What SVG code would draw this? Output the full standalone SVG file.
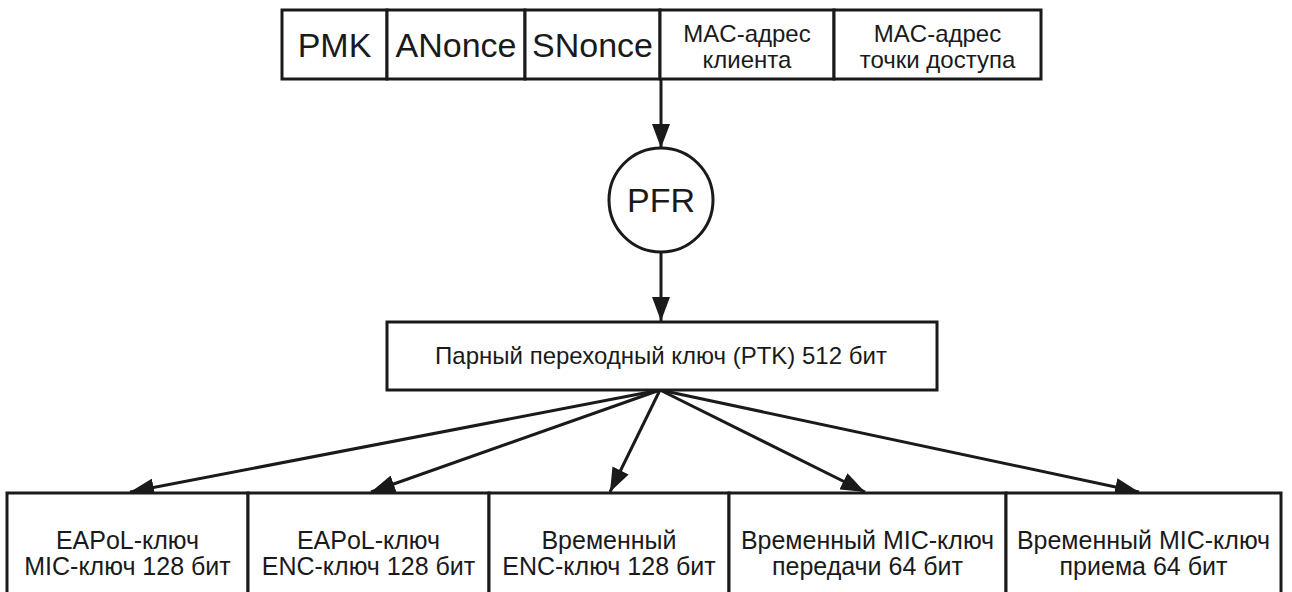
<svg xmlns="http://www.w3.org/2000/svg" width="1292" height="592" viewBox="0 0 1292 592">
<style>
.box{fill:#fff;stroke:#1a1a1a;stroke-width:3}
.ln{stroke:#1a1a1a;stroke-width:3;fill:none}
text{font-family:"Liberation Sans",Arial,sans-serif;fill:#1a1a1a;text-anchor:middle}
.big{font-size:34px}
.mac{font-size:24px}
.mid{font-size:24px}
.bot{font-size:25px}
</style>
<defs>
<marker id="ah" viewBox="0 0 24 18" refX="24" refY="9" markerWidth="24" markerHeight="18" markerUnits="userSpaceOnUse" orient="auto">
<path d="M0,0 L24,9 L0,18 z" fill="#1a1a1a"/>
</marker>
</defs>
<rect width="1292" height="592" fill="#fff"/>
<g id="connectors">
<line class="ln" x1="661" y1="80" x2="661" y2="148" marker-end="url(#ah)"/>
<line class="ln" x1="661" y1="252" x2="661" y2="321" marker-end="url(#ah)"/>
<line class="ln" x1="660" y1="390" x2="130" y2="492" marker-end="url(#ah)"/>
<line class="ln" x1="660" y1="390" x2="371" y2="492" marker-end="url(#ah)"/>
<line class="ln" x1="660" y1="390" x2="610" y2="492" marker-end="url(#ah)"/>
<line class="ln" x1="660" y1="390" x2="865" y2="492" marker-end="url(#ah)"/>
<line class="ln" x1="660" y1="390" x2="1139" y2="492" marker-end="url(#ah)"/>
</g>
<g id="pmk"><rect class="box" x="282" y="10" width="105" height="69"/><text class="big" x="334.5" y="57">PMK</text></g>
<g id="anonce"><rect class="box" x="387" y="10" width="138" height="69"/><text class="big" x="456" y="57">ANonce</text></g>
<g id="snonce"><rect class="box" x="525" y="10" width="135" height="69"/><text class="big" x="592.5" y="57">SNonce</text></g>
<g id="mac-client"><rect class="box" x="660" y="10" width="174" height="69"/><text class="mac" x="747" y="42">MAC-адрес</text><text class="mac" x="747" y="68">клиента</text></g>
<g id="mac-ap"><rect class="box" x="834" y="10" width="207" height="69"/><text class="mac" x="937.5" y="42">MAC-адрес</text><text class="mac" x="937.5" y="68">точки доступа</text></g>
<g id="pfr"><circle class="box" cx="661" cy="200" r="52"/><text class="big" x="661" y="212">PFR</text></g>
<g id="ptk"><rect class="box" x="387" y="322" width="550" height="68"/><text class="mid" x="661" y="364">Парный переходный ключ (PTK) 512 бит</text></g>
<g id="eapol-mic"><rect class="box" x="7" y="493" width="241" height="110"/><text class="bot" x="127.5" y="549">EAPoL-ключ</text><text class="bot" x="127.5" y="575">MIC-ключ 128 бит</text></g>
<g id="eapol-enc"><rect class="box" x="248" y="493" width="241" height="110"/><text class="bot" x="368.5" y="549">EAPoL-ключ</text><text class="bot" x="368.5" y="575">ENC-ключ 128 бит</text></g>
<g id="temp-enc"><rect class="box" x="489" y="493" width="240" height="110"/><text class="bot" x="609" y="549">Временный</text><text class="bot" x="609" y="575">ENC-ключ 128 бит</text></g>
<g id="temp-mic-tx"><rect class="box" x="729" y="493" width="277" height="110"/><text class="bot" x="867.5" y="549">Временный MIC-ключ</text><text class="bot" x="867.5" y="575">передачи 64 бит</text></g>
<g id="temp-mic-rx"><rect class="box" x="1006" y="493" width="275" height="110"/><text class="bot" x="1143.5" y="549">Временный MIC-ключ</text><text class="bot" x="1143.5" y="575">приема 64 бит</text></g>
</svg>
